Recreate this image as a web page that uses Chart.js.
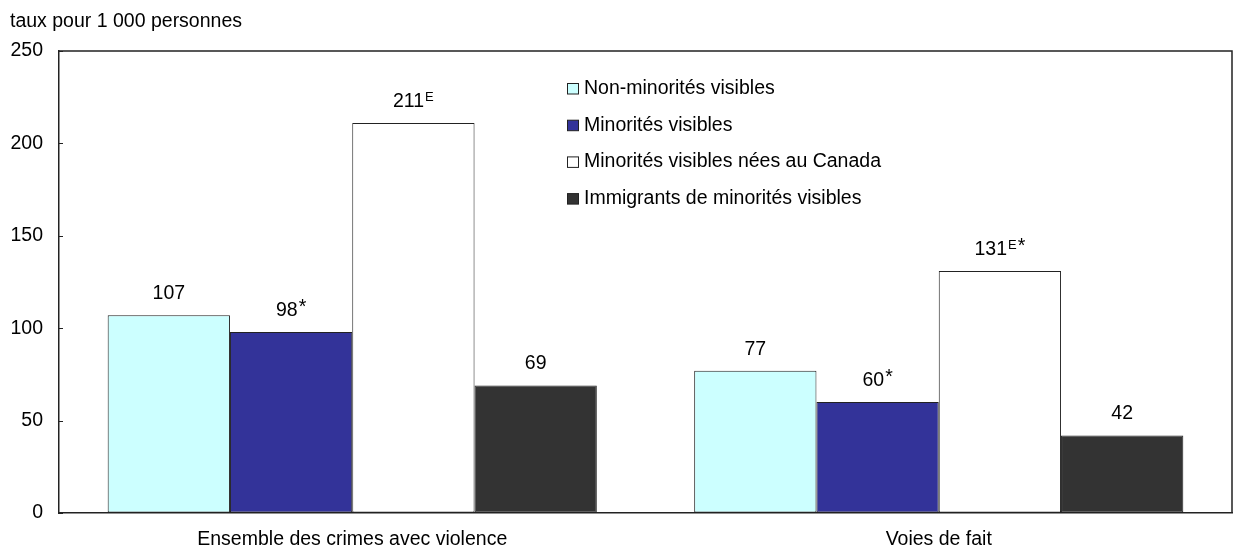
<!DOCTYPE html>
<html>
<head>
<meta charset="utf-8">
<script src="https://cdn.jsdelivr.net/npm/chart.js@4.4.1/dist/chart.umd.min.js"></script>
<style>
  html, body { margin: 0; padding: 0; background: #fff; }
  #wrap { width: 1233px; height: 552px; }
</style>
</head>
<body>
<div id="wrap"><canvas id="chart"></canvas></div>
<script>
// Data
const categories = ['Ensemble des crimes avec violence', 'Voies de fait'];
const seriesNames = ['Non-minorités visibles', 'Minorités visibles', 'Minorités visibles nées au Canada', 'Immigrants de minorités visibles'];
const nonMinorites = [107, 77];
const minorites = [98, 60];
const neesCanada = [211, 131];
const immigrants = [69, 42];
// notes printed after the values (E = use with caution, * = significant)
const notesNonMinorites = ['', ''];
const notesMinorites = ['*', '*'];
const notesNeesCanada = ['E', 'E*'];
const notesImmigrants = ['', ''];
const yTicks = [0, 50, 100, 150, 200, 250];

const FONT = '"Liberation Sans", Arial, sans-serif';
const SIZE = 19.5;
const colors = ['#CCFFFF', '#333399', '#FFFFFF', '#333333'];

// Title + box + inner ticks
const framePlugin = {
    id: 'frame',
    afterDraw(chart) {
        const ctx = chart.ctx;
        const a = chart.chartArea;
        ctx.save();
        ctx.fillStyle = '#000';
        ctx.font = SIZE + 'px ' + FONT;
        ctx.textAlign = 'left';
        ctx.textBaseline = 'alphabetic';
        ctx.fillText('taux pour 1 000 personnes', 10, 27);

        ctx.strokeStyle = '#222';
        ctx.lineWidth = 1.5;
        ctx.beginPath();
        ctx.moveTo(a.left, a.top);
        ctx.lineTo(a.right, a.top);
        ctx.lineTo(a.right, a.bottom);
        ctx.stroke();

        const y = chart.scales.y;
        ctx.lineWidth = 1;
        yTicks.forEach(v => {
            const py = Math.round(y.getPixelForValue(v)) + 0.5;
            ctx.beginPath();
            ctx.moveTo(a.left, py);
            ctx.lineTo(a.left + 4, py);
            ctx.stroke();
        });
        ctx.restore();
    }
};

// Value labels with superscripts
const labelPlugin = {
    id: 'valueLabels',
    afterDatasetsDraw(chart) {
        const ctx = chart.ctx;
        ctx.save();
        ctx.fillStyle = '#000';
        ctx.textBaseline = 'alphabetic';
        ctx.textAlign = 'left';
        chart.data.datasets.forEach((ds, i) => {
            const meta = chart.getDatasetMeta(i);
            meta.data.forEach((bar, j) => {
                const main = String(ds.data[j]);
                const note = ds.notes[j];
                ctx.font = SIZE + 'px ' + FONT;
                const wMain = ctx.measureText(main).width;
                const parts = [];
                let w = wMain;
                for (const ch of note) {
                    const f = ch === 'E' ? '13px ' + FONT : SIZE + 'px ' + FONT;
                    ctx.font = f;
                    const cw = ctx.measureText(ch).width;
                    parts.push({ ch, f, cw, dy: ch === 'E' ? 6 : 3 });
                    w += cw + 1;
                }
                let x = bar.x - w / 2;
                const base = bar.y - 16;
                ctx.font = SIZE + 'px ' + FONT;
                ctx.fillText(main, x, base);
                x += wMain + 1;
                parts.forEach(p => {
                    ctx.font = p.f;
                    ctx.fillText(p.ch, x, base - p.dy);
                    x += p.cw + 1;
                });
            });
        });
        ctx.restore();
    }
};

// Legend inside the plot
const legendPlugin = {
    id: 'boxLegend',
    afterDraw(chart) {
        const ctx = chart.ctx;
        ctx.save();
        ctx.font = SIZE + 'px ' + FONT;
        ctx.textBaseline = 'alphabetic';
        ctx.textAlign = 'left';
        chart.data.datasets.forEach((ds, i) => {
            const base = 94 + i * 36.7;
            ctx.fillStyle = ds.backgroundColor;
            ctx.fillRect(567.5, base - 10.5, 11, 10.5);
            ctx.strokeStyle = '#222';
            ctx.lineWidth = 1;
            ctx.strokeRect(567.5, base - 10.5, 11, 10.5);
            ctx.fillStyle = '#000';
            ctx.fillText(ds.label, 584, base);
        });
        ctx.restore();
    }
};

function makeSet(i, values, notes) {
    return {
        label: seriesNames[i],
        data: values,
        notes: notes,
        backgroundColor: colors[i],
        borderColor: '#222',
        borderWidth: 1,
        borderSkipped: false,
        categoryPercentage: 0.834,
        barPercentage: 1.0
    };
}

new Chart(document.getElementById('chart'), {
    type: 'bar',
    data: {
        labels: categories,
        datasets: [
            makeSet(0, nonMinorites, notesNonMinorites),
            makeSet(1, minorites, notesMinorites),
            makeSet(2, neesCanada, notesNeesCanada),
            makeSet(3, immigrants, notesImmigrants)
        ]
    },
    options: {
        responsive: true,
        maintainAspectRatio: false,
        animation: false,
        layout: { padding: { top: 51, right: 1, left: 0, bottom: 0 } },
        plugins: {
            legend: { display: false },
            tooltip: { enabled: false }
        },
        scales: {
            x: {
                grid: { display: true, drawOnChartArea: false, drawTicks: false },
                border: { display: true, color: '#222', width: 1.5 },
                ticks: { color: '#000', font: { family: FONT, size: SIZE }, padding: 15 },
                afterFit(scale) { scale.height = 39; }
            },
            y: {
                min: 0,
                max: 250,
                afterBuildTicks(scale) { scale.ticks = yTicks.map(v => ({ value: v })); },
                grid: { display: true, drawOnChartArea: false, drawTicks: false },
                border: { display: true, color: '#222', width: 1.5 },
                ticks: { color: '#000', font: { family: FONT, size: SIZE }, padding: 16 },
                afterFit(scale) { scale.width = 59; }
            }
        }
    },
    plugins: [framePlugin, labelPlugin, legendPlugin]
});
</script>
</body>
</html>
